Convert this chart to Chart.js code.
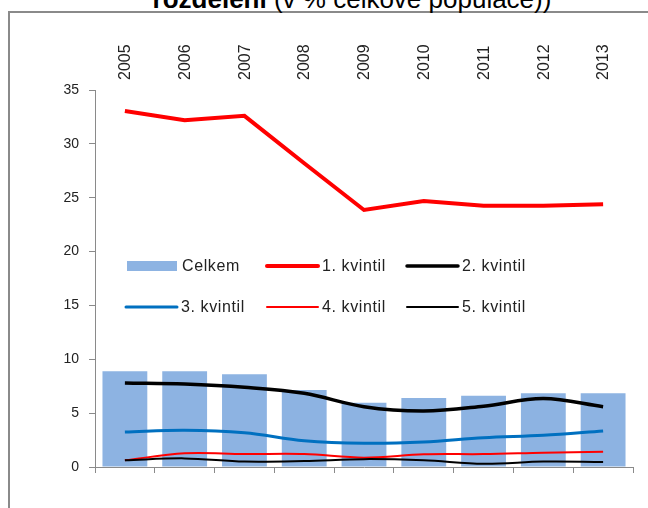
<!DOCTYPE html>
<html>
<head>
<meta charset="utf-8">
<script src="https://cdn.jsdelivr.net/npm/chart.js@4"></script>
<style>
body{margin:0;background:#fff;overflow:hidden;}
#wrap{position:relative;width:648px;height:508px;overflow:hidden;}
#frame{position:absolute;left:8px;top:11px;width:700px;height:600px;border-top:2px solid #8a8a8a;border-left:2px solid #8a8a8a;}
#title{position:absolute;left:0;width:704px;top:-16px;text-align:center;font:26px "Liberation Sans",Arial,sans-serif;color:#000;white-space:nowrap;}
canvas{position:absolute;left:0;top:0;}
</style>
</head>
<body>
<div id="wrap">
  <div id="frame"></div>
  <div id="title"><b>rozdělení</b> (v % celkové populace))</div>
  <canvas id="kvintilChart" width="648" height="508"></canvas>
</div>
<script>
// roky a hodnoty
const years = ["2005", "2006", "2007", "2008", "2009", "2010", "2011", "2012", "2013"];
const celkem = [8.9, 8.9, 8.6, 7.15, 5.97, 6.4, 6.62, 6.84, 6.84];
const kvintil1 = [33.05, 32.2, 32.6, 28.2, 23.86, 24.7, 24.26, 24.26, 24.4];
const kvintil2 = [7.8, 7.7, 7.4, 6.84, 5.6, 5.2, 5.65, 6.35, 5.6];
const kvintil3 = [3.25, 3.42, 3.18, 2.44, 2.2, 2.32, 2.72, 2.94, 3.34];
const kvintil4 = [0.62, 1.27, 1.2, 1.2, 0.87, 1.18, 1.2, 1.33, 1.42];
const kvintil5 = [0.62, 0.8, 0.5, 0.55, 0.73, 0.62, 0.3, 0.5, 0.47];
const yTicks = [0, 5, 10, 15, 20, 25, 30, 35];

const axisGray = "#8a8a8a";
const fontFamily = "'Liberation Sans', Arial, sans-serif";

// legenda je uvnitr plochy grafu, proto vlastni plugin
const legendSpots = [
    {x: 127, y: 266}, {x: 267, y: 266}, {x: 407, y: 266},
    {x: 126, y: 307}, {x: 267, y: 307}, {x: 407, y: 307}
];

const insideLegend = {
    id: "insideLegend",
    afterDraw: function(chart){
        const ctx = chart.ctx;
        ctx.save();
        ctx.font = "16px " + fontFamily;
        ctx.letterSpacing = "0.6px";
        ctx.textBaseline = "middle";
        chart.data.datasets.forEach(function(ds, i){
            const p = legendSpots[i];
            if (ds.type === "line") {
                ctx.strokeStyle = ds.borderColor;
                ctx.lineWidth = ds.borderWidth;
                ctx.lineCap = "round";
                ctx.beginPath();
                ctx.moveTo(p.x, p.y);
                ctx.lineTo(p.x + 51, p.y);
                ctx.stroke();
            } else {
                ctx.fillStyle = ds.backgroundColor;
                ctx.fillRect(p.x, p.y - 5, 50, 10);
            }
            ctx.fillStyle = "#222";
            ctx.fillText(ds.label, p.x + 55, p.y + 1);
        });
        ctx.restore();
    }
};

const ctx = document.getElementById("kvintilChart");
const myChart = new Chart(ctx, {
    type: "bar",
    data: {
        labels: years,
        datasets: [
            {label: "Celkem", data: celkem, backgroundColor: "#8db3e2", barPercentage: 0.75, categoryPercentage: 1, order: 6},
            {type: "line", label: "1. kvintil", data: kvintil1, borderColor: "#ff0000", borderWidth: 4, tension: 0, pointRadius: 0, order: 5},
            {type: "line", label: "2. kvintil", data: kvintil2, borderColor: "#000000", borderWidth: 3.5, tension: 0.35, pointRadius: 0, order: 4},
            {type: "line", label: "3. kvintil", data: kvintil3, borderColor: "#0070c0", borderWidth: 3, tension: 0.35, pointRadius: 0, order: 3},
            {type: "line", label: "4. kvintil", data: kvintil4, borderColor: "#ff0000", borderWidth: 2, tension: 0.35, pointRadius: 0, order: 2},
            {type: "line", label: "5. kvintil", data: kvintil5, borderColor: "#000000", borderWidth: 2, tension: 0.35, pointRadius: 0, order: 1}
        ]
    },
    options: {
        responsive: false,
        animation: false,
        layout: {padding: {left: 0, top: 0, right: 15, bottom: 0}},
        plugins: {
            legend: {display: false},
            tooltip: {enabled: false}
        },
        scales: {
            x: {
                position: "bottom",
                offset: true,
                ticks: {display: false},
                grid: {offset: true, drawOnChartArea: false, tickLength: 6, color: axisGray},
                border: {color: axisGray},
                afterFit: function(scale){ scale.height = 41; }
            },
            x2: {
                type: "category",
                position: "top",
                offset: true,
                labels: years,
                grid: {display: false, drawTicks: false},
                border: {display: false},
                ticks: {
                    autoSkip: false,
                    minRotation: 90,
                    maxRotation: 90,
                    padding: 10,
                    labelOffset: 20,
                    color: "#222",
                    font: {family: fontFamily, size: 16}
                },
                afterFit: function(scale){ scale.height = 90; }
            },
            y: {
                min: 0,
                max: 35,
                afterBuildTicks: function(scale){
                    scale.ticks = yTicks.map(function(v){ return {value: v}; });
                },
                ticks: {
                    padding: 10,
                    color: "#222",
                    font: {family: fontFamily, size: 14}
                },
                grid: {drawOnChartArea: false, tickLength: 6, color: axisGray},
                border: {color: axisGray},
                afterFit: function(scale){ scale.width = 95; }
            }
        }
    },
    plugins: [insideLegend]
});
</script>
</body>
</html>
